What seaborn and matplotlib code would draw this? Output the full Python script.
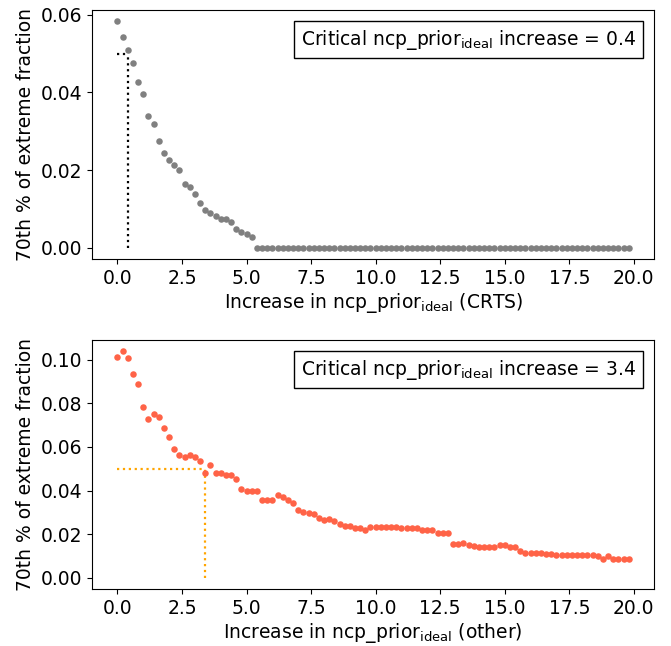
import numpy as np
import pandas as pd
import matplotlib
matplotlib.use("Agg")
import matplotlib.pyplot as plt
import seaborn as sns
from matplotlib.offsetbox import AnchoredText

# increase in ncp_prior_ideal (x axis, same grid for both panels)
ncp_increase = [
    0.0, 0.2, 0.4, 0.6, 0.8, 1.0, 1.2, 1.4, 1.6, 1.8,
    2.0, 2.2, 2.4, 2.6, 2.8, 3.0, 3.2, 3.4, 3.6, 3.8,
    4.0, 4.2, 4.4, 4.6, 4.8, 5.0, 5.2, 5.4, 5.6, 5.8,
    6.0, 6.2, 6.4, 6.6, 6.8, 7.0, 7.2, 7.4, 7.6, 7.8,
    8.0, 8.2, 8.4, 8.6, 8.8, 9.0, 9.2, 9.4, 9.6, 9.8,
    10.0, 10.2, 10.4, 10.6, 10.8, 11.0, 11.2, 11.4, 11.6, 11.8,
    12.0, 12.2, 12.4, 12.6, 12.8, 13.0, 13.2, 13.4, 13.6, 13.8,
    14.0, 14.2, 14.4, 14.6, 14.8, 15.0, 15.2, 15.4, 15.6, 15.8,
    16.0, 16.2, 16.4, 16.6, 16.8, 17.0, 17.2, 17.4, 17.6, 17.8,
    18.0, 18.2, 18.4, 18.6, 18.8, 19.0, 19.2, 19.4, 19.6, 19.8,
]

# 70th percentile of extreme fraction, CRTS
frac_crts = [
    0.0583, 0.0543, 0.0509, 0.0475, 0.0428, 0.0397, 0.0339, 0.0319, 0.0274, 0.0244,
    0.0227, 0.0213, 0.0201, 0.0165, 0.0156, 0.0139, 0.0115, 0.0097, 0.0089, 0.0081,
    0.0075, 0.0074, 0.0066, 0.0048, 0.0041, 0.0037, 0.0027, 0.0, 0.0, 0.0,
    0.0, 0.0, 0.0, 0.0, 0.0, 0.0, 0.0, 0.0, 0.0, 0.0,
    0.0, 0.0, 0.0, 0.0, 0.0, 0.0, 0.0, 0.0, 0.0, 0.0,
    0.0, 0.0, 0.0, 0.0, 0.0, 0.0, 0.0, 0.0, 0.0, 0.0,
    0.0, 0.0, 0.0, 0.0, 0.0, 0.0, 0.0, 0.0, 0.0, 0.0,
    0.0, 0.0, 0.0, 0.0, 0.0, 0.0, 0.0, 0.0, 0.0, 0.0,
    0.0, 0.0, 0.0, 0.0, 0.0, 0.0, 0.0, 0.0, 0.0, 0.0,
    0.0, 0.0, 0.0, 0.0, 0.0, 0.0, 0.0, 0.0, 0.0, 0.0,
]

# 70th percentile of extreme fraction, other
frac_other = [
    0.1014, 0.1038, 0.1009, 0.0933, 0.0887, 0.0785, 0.0726, 0.0750, 0.0735, 0.0685,
    0.0644, 0.0590, 0.0562, 0.0553, 0.0562, 0.0555, 0.0534, 0.0481, 0.0517, 0.0481,
    0.0481, 0.0472, 0.0472, 0.0452, 0.0409, 0.0399, 0.0399, 0.0399, 0.0359, 0.0359,
    0.0359, 0.0379, 0.0370, 0.0358, 0.0345, 0.0309, 0.0301, 0.0298, 0.0294, 0.0275,
    0.0265, 0.0272, 0.0259, 0.0248, 0.0239, 0.0239, 0.0230, 0.0230, 0.0221, 0.0231,
    0.0231, 0.0231, 0.0231, 0.0231, 0.0231, 0.0228, 0.0227, 0.0227, 0.0227, 0.0219,
    0.0219, 0.0219, 0.0208, 0.0208, 0.0208, 0.0155, 0.0155, 0.0160, 0.0149, 0.0146,
    0.0143, 0.0143, 0.0143, 0.0143, 0.0149, 0.0149, 0.0143, 0.0143, 0.0125, 0.0112,
    0.0112, 0.0112, 0.0112, 0.0110, 0.0110, 0.0103, 0.0103, 0.0103, 0.0103, 0.0103,
    0.0103, 0.0103, 0.0103, 0.0099, 0.0088, 0.0099, 0.0088, 0.0088, 0.0088, 0.0088,
]

threshold = 0.05
crit_crts = 0.4
crit_other = 3.4

panels = [
    ("CRTS", frac_crts, crit_crts, "gray", "black"),
    ("other", frac_other, crit_other, "tomato", "orange"),
]

plt.rcParams["font.family"] = ["DejaVu Sans"]
plt.rcParams["font.size"] = 13.5

fig = plt.figure(figsize=(6.71, 6.46), dpi=100)
ax_top = fig.add_axes([0.137, 0.5986, 0.838, 0.386])
ax_bot = fig.add_axes([0.137, 0.0878, 0.838, 0.386])

for ax, (name, frac, crit, color, guide) in zip([ax_top, ax_bot], panels):
    df = pd.DataFrame({"increase": ncp_increase, "frac": frac})
    sns.scatterplot(data=df, x="increase", y="frac", color=color, s=22,
                    linewidth=0, ax=ax, zorder=3)
    # guide lines to the critical point
    ax.plot([0, crit], [threshold, threshold], ls=":", color=guide, lw=1.6)
    ax.plot([crit, crit], [0, threshold], ls=":", color=guide, lw=1.6)

    ax.set_xticks([0, 2.5, 5, 7.5, 10, 12.5, 15, 17.5, 20])
    ax.set_xlabel("Increase in ncp_prior$_{\\rm ideal}$ (%s)" % name, labelpad=2.5)
    ax.set_ylabel("70th % of extreme fraction")

    at = AnchoredText("Critical ncp_prior$_{\\rm ideal}$ increase = %.1f" % crit,
                      loc="upper right", prop=dict(size=13.5), frameon=True,
                      borderpad=0.6, pad=0.35)
    at.patch.set_boxstyle("square,pad=0.")
    at.patch.set_edgecolor("black")
    ax.add_artist(at)

ax_top.set_yticks([0.0, 0.02, 0.04, 0.06])

fig.savefig("out.png", dpi=100)
